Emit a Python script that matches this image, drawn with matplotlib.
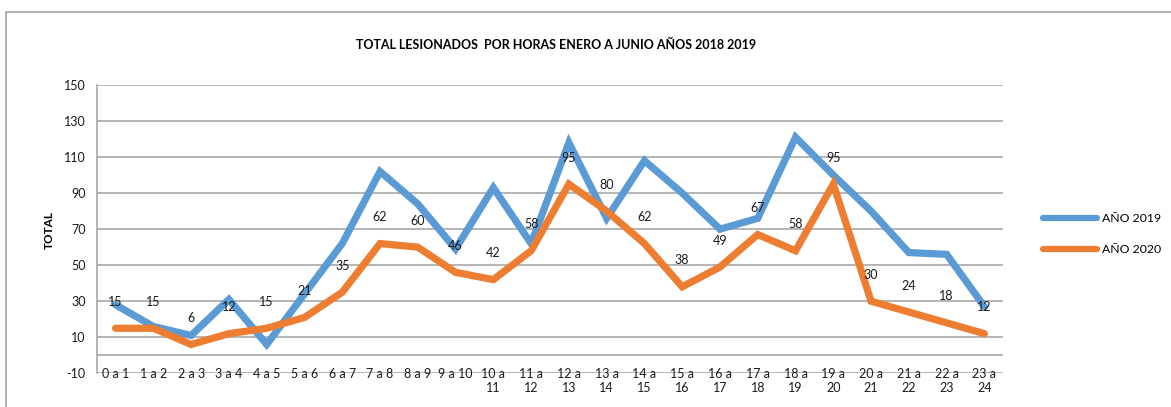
import matplotlib.pyplot as plt
import matplotlib.patches as patches
import numpy as np

horas = ["0 a 1", "1 a 2", "2 a 3", "3 a 4", "4 a 5", "5 a 6", "6 a 7", "7 a 8",
         "8 a 9", "9 a 10", "10 a\n11", "11 a\n12", "12 a\n13", "13 a\n14", "14 a\n15",
         "15 a\n16", "16 a\n17", "17 a\n18", "18 a\n19", "19 a\n20", "20 a\n21",
         "21 a\n22", "22 a\n23", "23 a\n24"]
anio_2019 = [28, 16, 11, 31, 6, 34, 62, 102, 84, 59, 93, 62, 118, 76, 108, 90, 70, 76,
             121, 100, 80, 57, 56, 27]
anio_2020 = [15, 15, 6, 12, 15, 21, 35, 62, 60, 46, 42, 58, 95, 80, 62, 38, 49, 67,
             58, 95, 30, 24, 18, 12]
y_ticks = [-10, 10, 30, 50, 70, 90, 110, 130, 150]

plt.rcParams['font.family'] = ['Lato', 'DejaVu Sans']
plt.rcParams['axes.unicode_minus'] = False

fig = plt.figure(figsize=(11.71, 4.07), dpi=100)
ax = fig.add_axes([96.7 / 1171, 1 - 373.3 / 407, (1003.3 - 96.7) / 1171, (373.3 - 85) / 407])

# marco exterior del grafico
fig.patches.append(patches.Rectangle((6 / 1171, -0.1), 1.2, 1 - 12 / 407 + 0.1,
                                     transform=fig.transFigure, fill=False,
                                     edgecolor='#a6a6a6', linewidth=1.2))

grid_c = '#a0a0a0'
for v in y_ticks:
    ax.axhline(v, color=grid_c, linewidth=1.1, zorder=1)
ax.axhline(0, color=grid_c, linewidth=1.1, zorder=1)

X = np.arange(len(horas)) + 0.5
ax.plot(X, anio_2019, color='#5b9bd5', linewidth=5.2, solid_capstyle='round',
        solid_joinstyle='miter', label='AÑO 2019', zorder=3)
ax.plot(X, anio_2020, color='#ed7d31', linewidth=5.2, solid_capstyle='round',
        solid_joinstyle='miter', label='AÑO 2020', zorder=4)

for i in range(len(anio_2020)):
    ax.annotate(str(anio_2020[i]), (X[i], anio_2020[i]), xytext=(0, 19),
                textcoords='offset points', ha='center', va='center',
                fontsize=9, color='#1a1a1a', zorder=5)

ax.set_xlim(0, len(horas))
ax.set_ylim(-10, 150)
ax.set_yticks(y_ticks)
ax.set_xticks(X)
ax.set_xticklabels(horas, linespacing=1.25)
ax.tick_params(axis='both', length=0, labelsize=9, colors='#1a1a1a')
ax.tick_params(axis='y', pad=8)
ax.tick_params(axis='x', pad=-4)

for s in ['top', 'right', 'bottom']:
    ax.spines[s].set_visible(False)
ax.spines['left'].set_color(grid_c)
ax.spines['left'].set_linewidth(1.1)

fig.text(96.7 / 1171 - 0.0405, 1 - 230 / 407, 'TOTAL', rotation=90, ha='center', va='center',
         fontsize=8.5, fontweight='bold')
fig.text(556.5 / 1171, 1 - 45 / 407, 'TOTAL LESIONADOS  POR HORAS ENERO A JUNIO AÑOS 2018 2019',
         ha='center', va='center', fontsize=9, fontweight='bold')

leg = ax.legend(loc='center left', bbox_to_anchor=(1043 / 1171, 1 - 234 / 407),
                bbox_transform=fig.transFigure, frameon=False, fontsize=8.8,
                handlelength=4.4, labelspacing=1.6, handletextpad=0.4,
                borderpad=0, borderaxespad=0)
for h in leg.get_lines():
    h.set_linewidth(4.5)

plt.savefig('out.png', dpi=100)
